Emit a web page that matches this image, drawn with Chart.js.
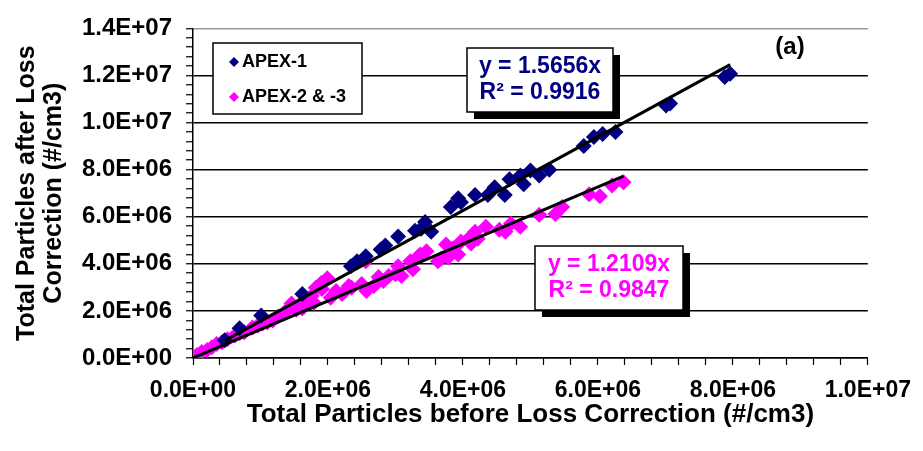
<!DOCTYPE html>
<html>
<head>
<meta charset="UTF-8">
<title>Total Particles before/after Loss Correction</title>
<script src="https://cdn.jsdelivr.net/npm/chart.js"></script>
<style>
body{margin:0;background:#fff;}
#wrap{width:923px;height:451px;}
</style>
</head>
<body>
<div id="wrap"><canvas id="chart" width="923" height="451"></canvas></div>
<script>
// values, in millions of #/cm3
let apex1X = [0.47,0.69,1.01,1.62,2.34,2.43,2.56,2.78,2.85,3.04,3.29,3.38,3.44,3.53,3.82,3.93,3.97,4.18,4.37,4.47,4.62,4.69,4.85,4.90,5.00,5.13,5.28,5.79,5.94,6.07,6.26,7.01,7.07,7.88,7.96];
let apex1Y = [0.75,1.26,1.80,2.72,3.90,4.11,4.32,4.61,4.78,5.16,5.41,5.49,5.78,5.36,6.41,6.79,6.62,6.92,6.92,7.25,6.92,7.59,7.75,7.38,7.96,7.75,8.00,9.01,9.39,9.51,9.60,10.73,10.81,11.94,12.07];

let apex23X = [0.00,0.06,0.13,0.21,0.28,0.35,0.43,0.51,0.62,0.69,0.76,0.88,0.96,1.03,1.10,1.18,1.26,1.35,1.43,1.46,1.53,1.60,1.62,1.69,1.76,1.79,1.82,1.90,1.91,1.99,2.04,2.12,2.21,2.31,2.35,2.50,2.56,2.57,2.68,2.75,2.82,2.90,3.00,3.04,3.09,3.22,3.26,3.34,3.37,3.46,3.63,3.68,3.75,3.78,3.85,3.93,3.97,4.07,4.12,4.18,4.22,4.34,4.54,4.63,4.71,4.85,5.13,5.37,5.47,5.87,6.03,6.21,6.38];
let apex23Y = [0.00,0.13,0.25,0.34,0.46,0.59,0.67,0.80,0.96,1.05,1.09,1.30,1.38,1.47,1.51,1.59,1.76,1.89,2.14,2.31,2.05,2.31,2.10,2.35,2.64,2.35,2.98,3.19,2.93,3.39,2.56,2.85,2.72,3.06,2.98,3.14,4.11,2.85,3.06,3.44,3.27,3.48,3.56,3.90,3.48,4.11,3.77,4.32,4.40,4.53,4.11,4.23,4.82,4.27,4.65,4.40,4.95,5.03,4.86,5.36,5.07,5.57,5.45,5.36,5.70,5.57,6.08,6.12,6.41,6.96,6.87,7.33,7.46];

// trendline equations shown on the chart
let fit1 = {slope:1.5656, r2:"0.9916"};
let fit23 = {slope:1.2109, r2:"0.9847"};

let seriesNames = ["APEX-1","APEX-2 & -3"];
let seriesColors = ["#000080","#FF00FF"];

const M = 1e6;
const FONT = '"Liberation Sans", Arial, sans-serif';

function pts(xs,ys){ return xs.map((x,i)=>({x:x*M,y:ys[i]*M})); }
function trend(xs,slope){
  let lo=Math.min(...xs)*M, hi=Math.max(...xs)*M;
  return [{x:lo,y:lo*slope},{x:hi,y:hi*slope}];
}
function isMajor(v){ let k=v/2e6; return Math.abs(k-Math.round(k))<1e-6; }
function sci(v){
  if(v===0) return "0.0E+00";
  let e=Math.floor(Math.log10(v)+1e-9);
  return (v/Math.pow(10,e)).toFixed(1)+"E+"+String(e).padStart(2,"0");
}
function lab(v){ return isMajor(v) ? sci(v) : ""; }

function eqBox(c,x,y,w,h,lines,color){
  c.fillStyle="#000";
  c.fillRect(x+7,y+7,w,h);
  c.fillStyle="#fff";
  c.fillRect(x,y,w,h);
  c.strokeStyle="#000"; c.lineWidth=1.5;
  c.strokeRect(x,y,w,h);
  c.fillStyle=color;
  c.font="bold 23px "+FONT;
  c.textAlign="center"; c.textBaseline="middle";
  c.fillText(lines[0],x+w/2,y+h/2-13);
  c.fillText(lines[1],x+w/2,y+h/2+13);
}

const overlay = {
  id:"overlay",
  afterDatasetsDraw(chart){
    let c=chart.ctx;
    c.save();
    // legend box
    c.fillStyle="#fff"; c.fillRect(213,43,149,71);
    c.strokeStyle="#000"; c.lineWidth=1.5; c.strokeRect(213,43,149,71);
    c.font="bold 18px "+FONT; c.textBaseline="middle"; c.textAlign="left";
    [62,97].forEach((yy,i)=>{
      c.fillStyle=seriesColors[i];
      c.beginPath();
      c.moveTo(234,yy-5); c.lineTo(239,yy); c.lineTo(234,yy+5); c.lineTo(229,yy);
      c.closePath(); c.fill();
      c.fillStyle="#000";
      c.fillText(seriesNames[i],242,yy);
    });
    eqBox(c,467,48,146,64,["y = "+fit1.slope+"x","R\u00B2 = "+fit1.r2],seriesColors[0]);
    eqBox(c,535,246,148,64,["y = "+fit23.slope+"x","R\u00B2 = "+fit23.r2],seriesColors[1]);
    c.fillStyle="#000"; c.font="bold 24px "+FONT; c.textAlign="center";
    c.fillText("(a)",790,47);
    c.restore();
  }
};

let chart = new Chart(document.getElementById("chart"),{
  type:"scatter",
  data:{
    datasets:[
      {type:"line",data:trend(apex1X,fit1.slope),borderColor:"#000",borderWidth:3,pointRadius:0,fill:false},
      {type:"line",data:trend(apex23X,fit23.slope),borderColor:"#000",borderWidth:3,pointRadius:0,fill:false},
      {label:seriesNames[0],data:pts(apex1X,apex1Y),pointStyle:"rectRot",pointRadius:8,
       backgroundColor:seriesColors[0],borderColor:seriesColors[0],borderWidth:0},
      {label:seriesNames[1],data:pts(apex23X,apex23Y),pointStyle:"rectRot",pointRadius:8,
       backgroundColor:seriesColors[1],borderColor:seriesColors[1],borderWidth:0}
    ]
  },
  options:{
    responsive:false,
    animation:false,
    layout:{padding:{top:24,right:50,left:0,bottom:0}},
    plugins:{legend:{display:false},tooltip:{enabled:false}},
    scales:{
      x:{
        type:"linear",min:0,max:1e7,
        afterFit(s){ s.height=93; },
        border:{color:"#000",width:1.5},
        grid:{drawOnChartArea:false,tickLength:7,tickColor:"#000",tickWidth:1.2},
        ticks:{stepSize:4e5,autoSkip:false,maxRotation:0,minRotation:0,padding:12,color:"#000",
               font:{family:FONT,size:23,weight:"bold"},callback:lab},
        title:{display:true,text:"Total Particles before Loss Correction (#/cm3)",color:"#000",
               font:{family:FONT,size:26,weight:"bold"},padding:{top:0,bottom:21}}
      },
      y:{
        type:"linear",min:0,max:1.4e7,
        afterFit(s){ s.width=193; },
        border:{color:"#000",width:1.5},
        grid:{
          color:(ctx)=>{
            if(!ctx.tick || !isMajor(ctx.tick.value)) return "rgba(0,0,0,0)";
            return ctx.tick.value>=1.4e7 ? "#999" : "#000";
          },
          lineWidth:1.5,tickLength:7,tickColor:"#000",tickWidth:1.2
        },
        ticks:{stepSize:4e5,autoSkip:false,padding:14,color:"#000",
               font:{family:FONT,size:24,weight:"bold"},callback:lab},
        title:{display:true,text:["Total Particles after Loss","Correction (#/cm3)"],color:"#000",
               font:{family:FONT,size:25,weight:"bold",lineHeight:1.1},padding:{top:13,bottom:0}}
      }
    }
  },
  plugins:[overlay]
});
</script>
</body>
</html>
